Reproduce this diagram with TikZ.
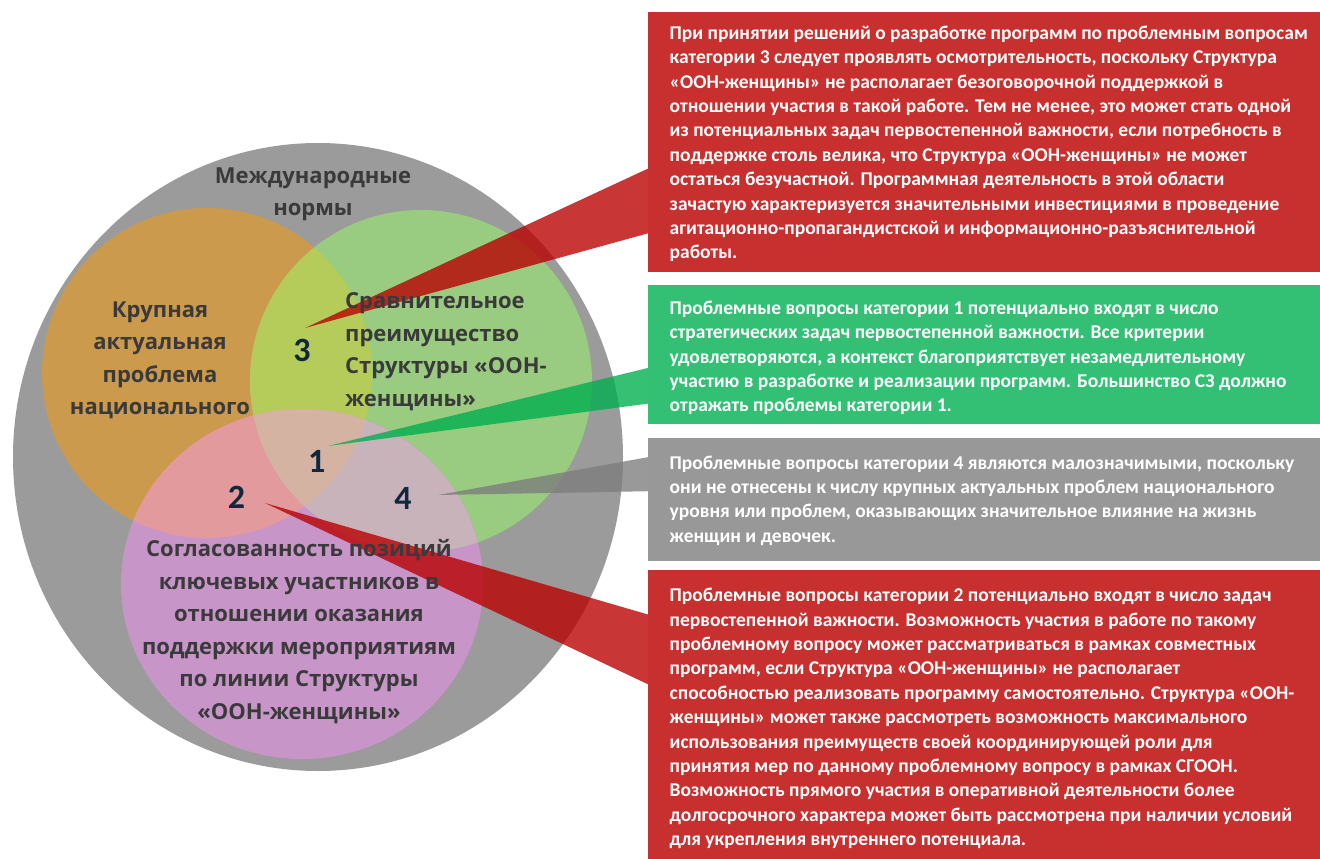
\documentclass[tikz,border=0pt]{standalone}
\usepackage{fontspec}
\newfontfamily\boxfont{Carlito}
\newfontfamily\circfont{Open Sans}
\definecolor{boxred}{RGB}{200,48,47}
\definecolor{boxgreen}{RGB}{51,192,116}
\definecolor{boxgray}{RGB}{152,152,152}
\definecolor{wedgered}{RGB}{185,0,0}
\definecolor{wedgegreen}{RGB}{0,175,79}
\definecolor{wedgegray}{RGB}{125,125,125}
\definecolor{cgray}{RGB}{155,155,155}
\definecolor{corange}{RGB}{203,154,76}
\definecolor{cgreen}{RGB}{153,203,128}
\definecolor{cpurple}{RGB}{199,149,200}
\definecolor{cog}{RGB}{181,204,90}
\definecolor{cop}{RGB}{227,154,157}
\definecolor{cgp}{RGB}{201,179,186}
\definecolor{call}{RGB}{213,179,163}
\definecolor{txtdark}{RGB}{58,58,58}
\definecolor{numcol}{RGB}{16,40,62}
\pgfdeclarelayer{circ}
\pgfdeclarelayer{wedge}
\pgfsetlayers{circ,wedge,main}
\tikzset{
  box/.style={draw=none, anchor=north west, inner sep=0pt, minimum width=672pt},
  boxtext/.style={anchor=west, align=left, inner sep=0pt, text=white,
    font=\boxfont\bfseries\fontsize{19.5}{24.4}\selectfont},
  circtext/.style={align=center, inner sep=0pt, text=txtdark,
    font=\circfont\bfseries\fontsize{22}{32.5}\selectfont},
  numtext/.style={inner sep=0pt, text=numcol,
    font=\boxfont\bfseries\fontsize{34}{34}\selectfont},
  wedge/.style={fill opacity=0.79}
}
\begin{document}
\begin{tikzpicture}[x=1pt,y=-1pt]
\useasboundingbox (0,0) rectangle (1320,859);
\def\orangeC{(207,373) circle [radius=165]}
\def\greenC{(421,381) circle [radius=171]}
\def\purpleC{(302,584) ellipse [x radius=181, y radius=175]}
\begin{pgfonlayer}{circ}
  \fill[cgray] (318,457) ellipse [x radius=305, y radius=314];
  \fill[corange] \orangeC;
  \fill[cgreen] \greenC;
  \fill[cpurple] \purpleC;
  \begin{scope}\clip \orangeC; \fill[cog] \greenC; \end{scope}
  \begin{scope}\clip \orangeC; \fill[cop] \purpleC; \end{scope}
  \begin{scope}\clip \greenC; \fill[cgp] \purpleC; \end{scope}
  \begin{scope}\clip \orangeC; \clip \greenC; \fill[call] \purpleC; \end{scope}
\end{pgfonlayer}

% circle labels
\node[circtext] (intl) at (313,194.5) {Международные\\нормы};
\node[circtext] (nat) at (160,360.5) {Крупная\\актуальная\\проблема\\национального};
\node[circtext, anchor=west, align=left] (adv) at (345,351.5) {Сравнительное\\преимущество\\Структуры «ООН-\\женщины»};
\node[circtext] (cons) at (299,631.5) {Согласованность позиций\\ключевых участников в\\отношении оказания\\поддержки мероприятиям\\по линии Структуры\\«ООН-женщины»};

% numbers
\node[numtext] (n3) at (302,350) {3};
\node[numtext] (n1) at (316.7,461) {1};
\node[numtext] (n2) at (236.5,497) {2};
\node[numtext] (n4) at (403,498) {4};

% boxes
\node[box, fill=boxred, minimum height=260pt] (b3) at (648,12) {};
\node[box, fill=boxgreen, minimum height=139pt] (b1) at (648,285) {};
\node[box, fill=boxgray, minimum height=123pt] (b4) at (648,438) {};
\node[box, fill=boxred, minimum height=289pt] (b2) at (648,570) {};

\node[boxtext] (x3) at (669.5,144) {При принятии решений о разработке программ по проблемным вопросам\\
категории 3 следует проявлять осмотрительность, поскольку Структура\\
«ООН-женщины» не располагает безоговорочной поддержкой в\\
отношении участия в такой работе. Тем не менее, это может стать одной\\
из потенциальных задач первостепенной важности, если потребность в\\
поддержке столь велика, что Структура «ООН-женщины» не может\\
остаться безучастной. Программная деятельность в этой области\\
зачастую характеризуется значительными инвестициями в проведение\\
агитационно-пропагандистской и информационно-разъяснительной\\
работы.};
\node[boxtext] (x1) at (669.5,358) {Проблемные вопросы категории 1 потенциально входят в число\\
стратегических задач первостепенной важности. Все критерии\\
удовлетворяются, а контекст благоприятствует незамедлительному\\
участию в разработке и реализации программ. Большинство СЗ должно\\
отражать проблемы категории 1.};
\node[boxtext] (x4) at (669.5,500.5) {Проблемные вопросы категории 4 являются малозначимыми, поскольку\\
они не отнесены к числу крупных актуальных проблем национального\\
уровня или проблем, оказывающих значительное влияние на жизнь\\
женщин и девочек.};
\node[boxtext] (x2) at (669.5,718.5) {Проблемные вопросы категории 2 потенциально входят в число задач\\
первостепенной важности. Возможность участия в работе по такому\\
проблемному вопросу может рассматриваться в рамках совместных\\
программ, если Структура «ООН-женщины» не располагает\\
способностью реализовать программу самостоятельно. Структура «ООН-\\
женщины» может также рассмотреть возможность максимального\\
использования преимуществ своей координирующей роли для\\
принятия мер по данному проблемному вопросу в рамках СГООН.\\
Возможность прямого участия в оперативной деятельности более\\
долгосрочного характера может быть рассмотрена при наличии условий\\
для укрепления внутреннего потенциала.};

% wedge tips and bases
\coordinate (t3) at (305,328);
\coordinate (t1) at (328,446);
\coordinate (t4) at (438,495);
\coordinate (t2) at (265,503);
\coordinate (w3a) at (660,163); \coordinate (w3b) at (660,230);
\coordinate (w1a) at (660,365); \coordinate (w1b) at (660,402);
\coordinate (w4a) at (660,455); \coordinate (w4b) at (660,491);
\coordinate (w2a) at (660,618); \coordinate (w2b) at (660,690);
\begin{pgfonlayer}{wedge}
  \fill[wedgered, wedge] (t3) -- (w3a) -- (w3b) -- cycle;
  \fill[wedgegreen, wedge] (t1) -- (w1a) -- (w1b) -- cycle;
  \fill[wedgegray, wedge] (t4) -- (w4a) -- (w4b) -- cycle;
  \fill[wedgered, wedge] (t2) -- (w2a) -- (w2b) -- cycle;
\end{pgfonlayer}
\end{tikzpicture}
\end{document}
